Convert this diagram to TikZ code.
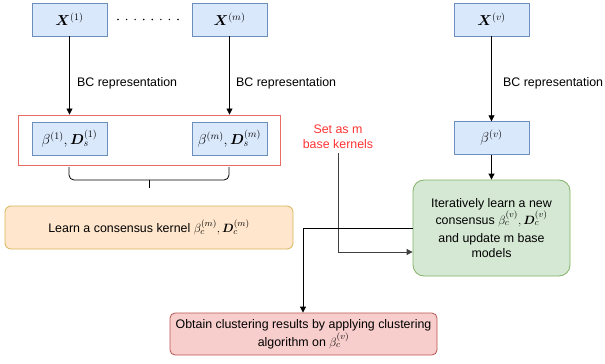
\documentclass[tikz,border=0pt]{standalone}
\usepackage{amsmath}
\usepackage{bm}
\usepackage[no-math]{fontspec}
\setmainfont{Liberation Sans}
\usetikzlibrary{arrows.meta,positioning,fit}
\definecolor{bluefill}{HTML}{DAE8FC}
\definecolor{bluedraw}{HTML}{6C8EBF}
\definecolor{orangefill}{HTML}{FFE6CC}
\definecolor{orangedraw}{HTML}{D6B656}
\definecolor{greenfill}{HTML}{D5E8D4}
\definecolor{greendraw}{HTML}{82B366}
\definecolor{redfill}{HTML}{F8CECC}
\definecolor{reddraw}{HTML}{B85450}
\definecolor{grpdraw}{HTML}{EA6B66}
\definecolor{redtext}{HTML}{FF3333}
\begin{document}
\begin{tikzpicture}[x=1pt,y=-1pt,
  every node/.style={font=\fontsize{12.4}{15}\selectfont, inner sep=0pt},
  bbox/.style={draw=bluedraw, fill=bluefill, minimum width=75pt, minimum height=33pt, font=\fontsize{14}{16}\selectfont},
  conn/.style={line width=0.8pt, -{Triangle[length=6pt,width=6pt]}},
  lab/.style={anchor=west}
]
\useasboundingbox (0,0) rectangle (605,364);

% top row
\node[bbox] (X1) at (69.5,19.5) {$\bm{X}^{(1)}$};
\node[bbox] (Xm) at (229.5,19.5) {$\bm{X}^{(m)}$};
\node[bbox] (Xv) at (491.5,19.5) {$\bm{X}^{(v)}$};
\coordinate (d1) at (118,19.5);
\coordinate (d2) at (178,19.5);
\draw[line width=1.6pt, line cap=round, dash pattern=on 0pt off 8.57pt] (d1) -- (d2);

% group rectangle and beta boxes
\node[bbox] (B1) at (69.5,138.5) {$\beta^{(1)}, \bm{D}_s^{(1)}$};
\node[bbox] (Bm) at (229.5,138.5) {$\beta^{(m)}, \bm{D}_s^{(m)}$};
\node[draw=grpdraw, line width=0.9pt, minimum width=262pt, minimum height=50pt] (grp) at (149,140) {};
\node[bbox] (Bv) at (491.5,138) {$\beta^{(v)}$};

% arrows BC representation
\draw[conn] (X1) -- (X1 |- grp.north);
\draw[conn] (Xm) -- (Xm |- grp.north);
\draw[conn] (Xv) -- (Bv);
\node[lab] (l1) at (77,83) {BC representation};
\node[lab] (l2) at (236,83) {BC representation};
\node[lab] (l3) at (503,83) {BC representation};

% brace
\coordinate (br1) at (69,167);
\coordinate (br2) at (229,167);
\coordinate (brt) at (149,188);
\draw[line width=0.8pt, rounded corners=5pt] (br1) -- (69,180) -- (229,180) -- (br2);
\draw[line width=0.8pt] (149,180) -- (brt);

% orange consensus box
\node[draw=orangedraw, fill=orangefill, rounded corners=6pt, line width=0.8pt,
      minimum width=288pt, minimum height=43pt] (orange) at (149,227.5)
      {Learn a consensus kernel $\beta_c^{(m)}, \bm{D}_c^{(m)}$};

% green iterative box
\node[draw=greendraw, fill=greenfill, rounded corners=11pt, line width=0.8pt,
      minimum width=157pt, minimum height=96pt, align=center] (green) at (491.5,228)
      {Iteratively learn a new\\[0pt] consensus $\beta_c^{(v)}, \bm{D}_c^{(v)}$\\[3pt] and update m base\\ models};
\draw[conn] (Bv) -- (green);

% red label
\node[text=redtext, align=center] (setas) at (338,137) {Set as m\\ base kernels};
\coordinate (c1) at (338,252);
\draw[conn, draw=black!75] (setas.south) ++(0,4) -- (c1) -- (c1 -| green.west);

% red result box
\node[draw=reddraw, fill=redfill, rounded corners=5pt, line width=0.8pt,
      minimum width=267pt, minimum height=42pt, align=center] (res) at (303.5,334)
      {Obtain clustering results by applying clustering\\[1pt] algorithm on $\beta_c^{(v)}$};
\coordinate (c2) at (303,228);
\draw[conn] (green.west |- c2) -- (c2) -- (res.north -| c2);
\end{tikzpicture}
\end{document}
